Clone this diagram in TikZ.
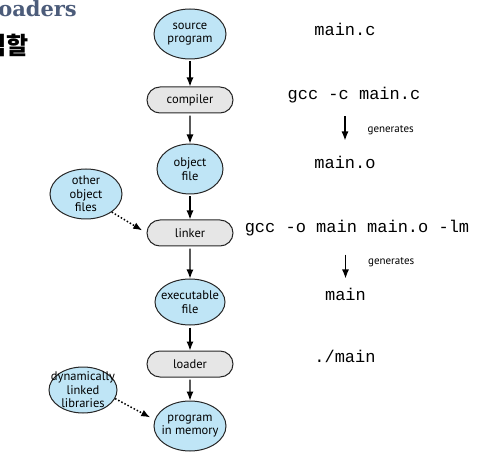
\documentclass[tikz,border=0pt]{standalone}
\usepackage{fontspec}
\setsansfont{PT Sans}
\newfontfamily\codefont{Liberation Mono}
\newfontfamily\headfont{DejaVu Serif}
\newfontfamily\krfont{Noto Sans CJK KR}
\usetikzlibrary{arrows.meta, shapes.misc, shapes.geometric}

\definecolor{fileblue}{RGB}{191,229,246}
\definecolor{toolgray}{RGB}{230,230,230}
\definecolor{headslate}{RGB}{76,92,122}

\begin{document}
\begin{tikzpicture}[
  x=1pt, y=-1pt, >={Latex[length=9pt,width=7pt]},
  every node/.style={inner sep=0pt},
  file/.style={ellipse, draw=black!85, fill=fileblue, line width=1pt, align=center,
    inner xsep=-8pt, inner ysep=-6pt, font=\sffamily\fontsize{12.5}{13.5}\selectfont},
  tool/.style={rounded rectangle, draw=black!85, fill=toolgray, line width=1pt,
    minimum width=86pt, minimum height=26pt, font=\sffamily\fontsize{12.5}{14}\selectfont},
  code/.style={anchor=base, font=\codefont\fontsize{17}{20}\selectfont},
  flow/.style={->, line width=1.2pt, shorten <=2pt},
  extra/.style={->, dotted, line width=1.5pt, shorten >=5pt},
  gen/.style={->, line width=1.2pt},
  note/.style={anchor=west, xshift=22pt, font=\sffamily\fontsize{11}{13}\selectfont}]

  \useasboundingbox (0,0) rectangle (496,468);

  % heading, cut at the left edge
  \node[anchor=base east, text=headslate, font=\headfont\bfseries\fontsize{21}{24}\selectfont]
    (title) at (77,17) {Loaders};
  \node[anchor=base east, font=\krfont\bfseries\fontsize{24}{28}\selectfont]
    (subtitle) at (29,55) {역할};

  \node[file, minimum width=72pt, minimum height=50pt] (src) at (190,34)  {source\\program};
  \node[tool]                                          (cc)  at (190,100) {compiler};
  \node[file, minimum width=66pt, minimum height=50pt] (obj) at (190,169) {object\\file};
  \node[tool]                                          (ld)  at (190,233) {linker};
  \node[file, minimum width=70pt, minimum height=46pt] (exe) at (190,302) {executable\\file};
  \node[tool]                                          (ldr) at (190,364) {loader};
  \node[file, minimum width=72pt, minimum height=50pt] (mem) at (190,426) {program\\in memory};

  \node[file, minimum width=72pt, minimum height=50pt] (oth) at (86,194) {other\\object\\files};
  \node[file, minimum width=68pt, minimum height=46pt, inner xsep=-10pt]
    (dyn) at (83,390) {dynamically\\linked\\libraries};

  \node[code] (srcf)   at (345,35.5) {main.c};
  \node[code] (ccmd)   at (354,100)  {gcc -c main.c};
  \node[code] (objf)   at (345,169)  {main.o};
  \node[code] (lcmd)   at (357,233)  {gcc -o main main.o -lm};
  \node[code] (exef)   at (345.5,301){main};
  \node[code] (runcmd) at (345,362)  {./main};

  \draw[flow] (src) -- (cc);
  \draw[flow] (cc)  -- (obj);
  \draw[flow] (obj) -- (ld);
  \draw[flow] (ld)  -- (exe);
  \draw[flow] (exe) -- (ldr);
  \draw[flow] (ldr) -- (mem);

  \draw[extra] (oth.-35) -- (ld.west);
  \draw[extra] (dyn.-15) -- (mem.170);

  \draw[gen, shorten <=12.5pt, shorten >=16pt] (ccmd.south -| objf.north) -- (objf.north)
    node[note, midway] (gen1) {generates};
  \draw[gen, shorten <=18pt, shorten >=10pt]   (lcmd.south -| exef.north) -- (exef.north)
    node[note, midway] (gen2) {generates};

\end{tikzpicture}
\end{document}
